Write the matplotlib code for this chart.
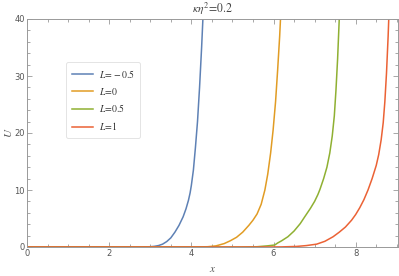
import matplotlib
matplotlib.use("Agg")
import matplotlib.pyplot as plt
from matplotlib.ticker import MultipleLocator

plt.rcParams['mathtext.fontset'] = 'stix'
plt.rcParams['font.family'] = ['DejaVu Sans']

labels = [r'$L\!=\!-0.5$', r'$L\!=\!0$', r'$L\!=\!0.5$', r'$L\!=\!1$']
colors = ['#5E81B5', '#E19C24', '#8FB032', '#EB6235']

x_blue = [0, 2.8, 3.0, 3.1, 3.2, 3.3, 3.4, 3.5, 3.6, 3.7, 3.8, 3.87, 3.93, 3.97,
          4.0, 4.05, 4.1, 4.15, 4.2, 4.25, 4.3]
u_blue = [0, 0.0, 0.05, 0.12, 0.25, 0.5, 0.95, 1.6, 2.6, 3.8, 5.3, 6.7, 8.2, 9.5,
          10.8, 13.5, 17.5, 22, 28, 35, 43]

x_orange = [0, 4.1, 4.4, 4.6, 4.8, 4.95, 5.1, 5.25, 5.4, 5.5, 5.6, 5.7, 5.79,
            5.86, 5.93, 5.99, 6.05, 6.1, 6.15, 6.19]
u_orange = [0, 0.0, 0.05, 0.2, 0.6, 1.1, 1.7, 2.6, 3.8, 4.7, 5.8, 7.5, 10,
            12.8, 16.5, 20.5, 25.5, 31, 37, 43]

x_green = [0, 5.2, 5.6, 5.85, 6.03, 6.1, 6.2, 6.35, 6.5, 6.65, 6.76, 6.9, 7.0,
           7.08, 7.13, 7.22, 7.3, 7.37, 7.43, 7.48, 7.52, 7.56, 7.6, 7.62]
u_green = [0, 0.0, 0.05, 0.2, 0.35, 0.7, 1.1, 1.8, 2.8, 4.1, 5.3, 6.8, 8.0,
           9.2, 10.1, 12, 14, 16.5, 19.5, 23, 27.5, 33, 40, 43]

x_red = [0, 5.8, 6.2, 6.56, 6.8, 7.05, 7.25, 7.45, 7.6, 7.75, 7.9, 8.0, 8.1,
         8.2, 8.3, 8.4, 8.5, 8.56, 8.62, 8.67, 8.71, 8.75, 8.79, 8.82]
u_red = [0, 0.0, 0.02, 0.1, 0.25, 0.5, 1.0, 1.8, 2.6, 3.5, 4.7, 5.7, 6.9,
         8.3, 10, 12, 14.3, 16.2, 18.8, 21.8, 25.5, 30.5, 37, 43]

xs = [x_blue, x_orange, x_green, x_red]
us = [u_blue, u_orange, u_green, u_red]

fig = plt.figure(figsize=(3.99, 2.76), dpi=100)
ax = fig.add_axes([27/399, 29/276, 371/399, 228/276])

for x, u, c, lab in zip(xs, us, colors, labels):
    ax.plot(x, u, color=c, lw=1.1, label=lab, solid_joinstyle='round')

ax.set_xlim(0, 9.03)
ax.set_ylim(0, 40)
ax.xaxis.set_major_locator(MultipleLocator(2))
ax.xaxis.set_minor_locator(MultipleLocator(0.5))
ax.yaxis.set_major_locator(MultipleLocator(10))
ax.yaxis.set_minor_locator(MultipleLocator(2))

grey = '#999999'
for s in ax.spines.values():
    s.set_color(grey)
    s.set_linewidth(0.7)
ax.tick_params(which='both', direction='in', top=True, right=True, color=grey,
               labelcolor='#555555', labelsize=6, width=0.6)
ax.tick_params(which='major', length=3.5, pad=1.5)
ax.tick_params(which='minor', length=2)

ax.set_xlabel(r'$x$', fontsize=8, color='#555555', labelpad=4)
fig.text(8/399, 1 - 133/276, r'$U$', fontsize=8, color='#555555',
         rotation=90, ha='center', va='center')
ax.set_title(r'$\kappa\eta^2\!=\!0.2$', fontsize=8.5, color='#444444', pad=4)

leg = ax.legend(loc='upper left', bbox_to_anchor=(34/371, 190/228), fontsize=7,
                frameon=True, handlelength=2.2, handletextpad=0.6,
                labelspacing=0.6, borderpad=0.6, fancybox=True)
leg.get_frame().set_edgecolor('#dddddd')
leg.get_frame().set_linewidth(0.7)
for t in leg.get_texts():
    t.set_color('#333333')

fig.savefig('out.png', dpi=100)
